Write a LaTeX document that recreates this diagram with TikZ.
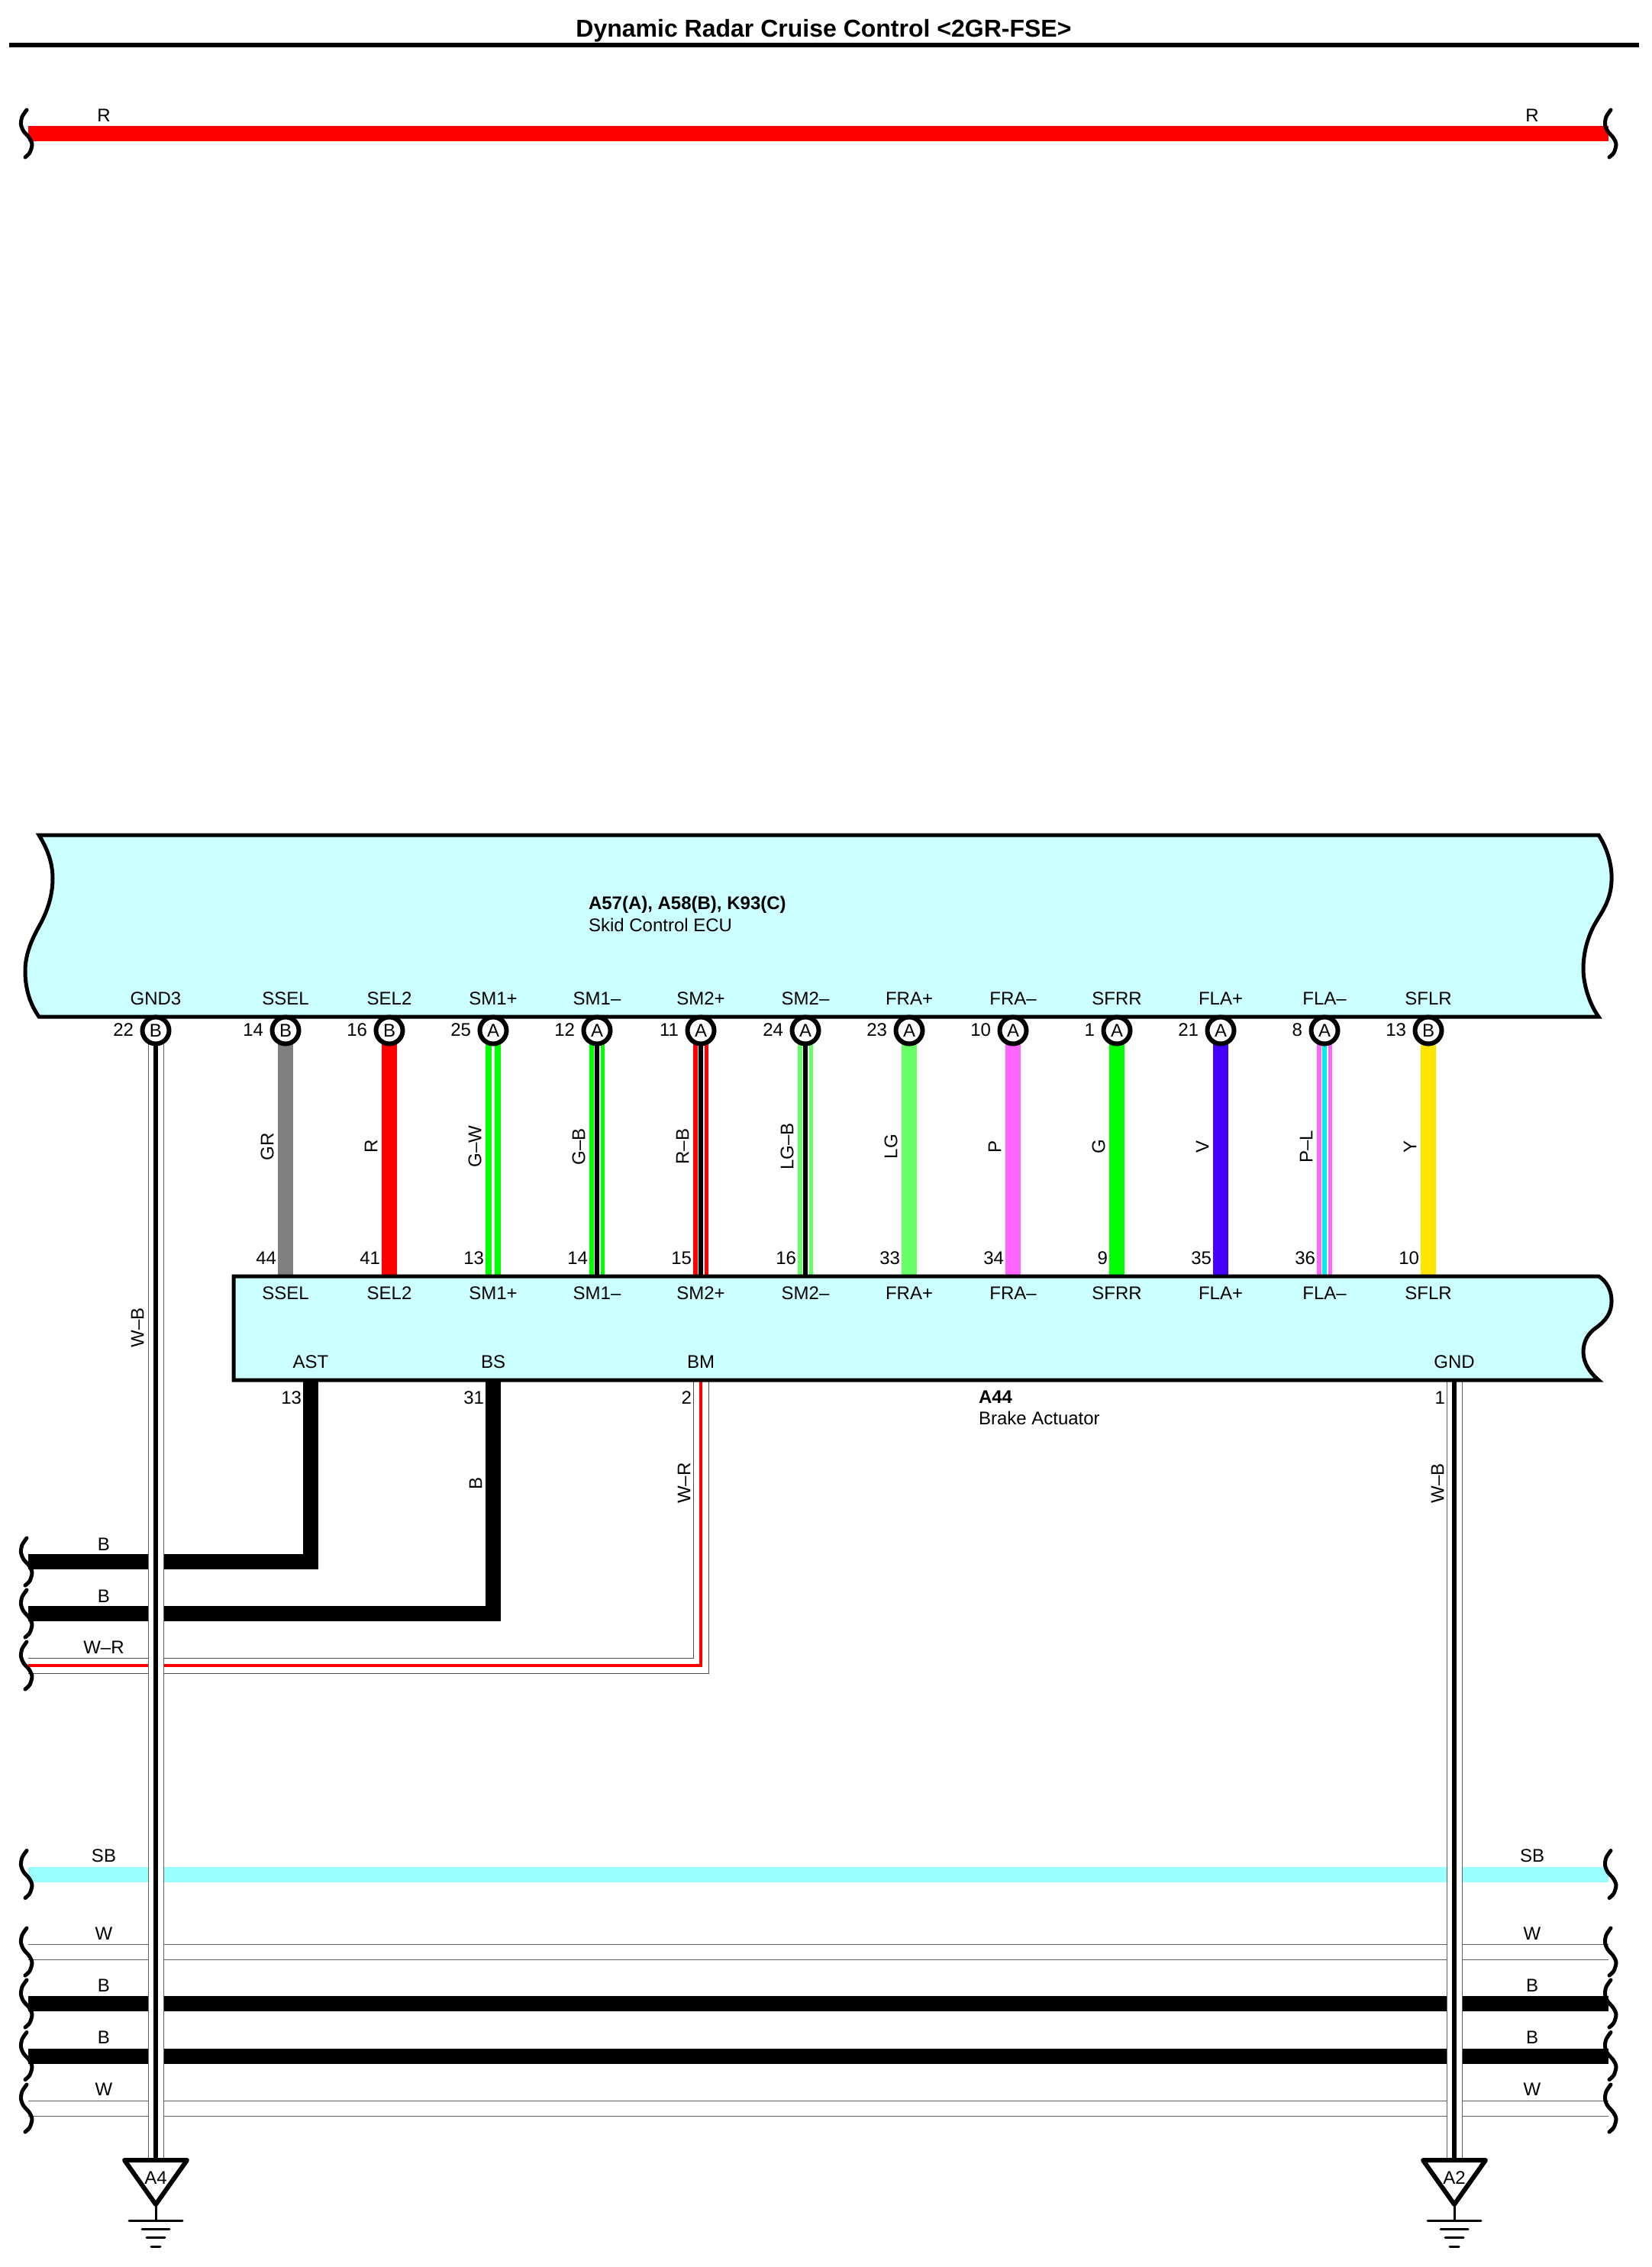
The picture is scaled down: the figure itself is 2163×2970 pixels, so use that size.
\documentclass[tikz,border=0pt]{standalone}
\usepackage{fontspec}
\setmainfont{Liberation Sans}
\pgfdeclarelayer{wires}
\pgfsetlayers{wires,main}
\definecolor{boxfill}{HTML}{CCFFFF}
\definecolor{wgray}{HTML}{808080}
\definecolor{wlg}{HTML}{66FF66}
\definecolor{wpink}{HTML}{FF66FF}
\definecolor{wviolet}{HTML}{4400FF}
\definecolor{wyellow}{HTML}{FFE600}
\definecolor{wcyan}{HTML}{00EEEE}
\definecolor{wsb}{HTML}{99FFFF}
\definecolor{wline}{HTML}{606060}
\tikzset{
  lab/.style={font=\fontsize{12}{12}\selectfont,inner sep=0pt,outer sep=0pt,text=black},
  vlab/.style={lab,rotate=90},
  numlab/.style={lab,anchor=east},
  pincirc/.style={circle,draw=black,line width=3pt,fill=white,minimum size=17.5pt,inner sep=0pt,outer sep=0pt,font=\fontsize{12}{12}\selectfont},
  ecubox/.style={draw=black,fill=boxfill,line width=2.5pt,line join=miter},
  squigline/.style={draw=black,line width=2.5pt,line cap=round,line join=round},
  plainwire/.style={draw=#1,line width=10pt},
  coretwo/.style n args={2}{draw=#1,line width=10pt,postaction={draw=white,line width=4.5pt},postaction={draw=#2,line width=3pt}},
  whitecore/.style={draw=#1,line width=10pt,postaction={draw=white,line width=2pt}},
  linepair/.style={draw=wline,line width=10.5pt,postaction={draw=white,line width=9.5pt}},
  wGR/.style={plainwire=wgray},
  wR/.style={plainwire=red},
  wGW/.style={whitecore=green},
  wGB/.style={coretwo={green}{black}},
  wRB/.style={coretwo={red}{black}},
  wLGB/.style={coretwo={wlg}{black}},
  wLG/.style={plainwire=wlg},
  wP/.style={plainwire=wpink},
  wG/.style={plainwire=green},
  wV/.style={plainwire=wviolet},
  wPL/.style={coretwo={wpink}{wcyan}},
  wY/.style={plainwire=wyellow},
  wWB/.style={draw=wline,line width=10.5pt,postaction={draw=white,line width=9.5pt},postaction={draw=black,line width=2.75pt}},
  wWR/.style={draw=black!70,line width=10.5pt,postaction={draw=white,line width=9.5pt},postaction={draw=red,line width=2.25pt}},
  squig/.pic={\draw[squigline] plot[smooth] coordinates {(8,-31) (2,-22) (0.5,-12) (4,-3) (11,5) (15,14) (12,25) (6,31)};},
  gndsym/.pic={
    \draw[draw=black,fill=white,line width=3pt,line join=round] (-41,0) -- (41,0) -- (0,58) -- cycle;
    \node[lab] (txt) at (0,23) {#1};
    \draw[line width=1.5pt] (0,58) -- (0,79);
    \draw[line width=1.5pt,line cap=round] (-35,79) -- (35,79);
    \draw[line width=1.5pt,line cap=round] (-18,90) -- (18,90);
    \draw[line width=1.5pt,line cap=round] (-12,101.5) -- (12,101.5);
    \draw[line width=1.5pt,line cap=round] (-6,113) -- (6,113);
  }
}
\begin{document}
\begin{tikzpicture}[x=0.5pt,y=-0.5pt]
\useasboundingbox (0,0) rectangle (2163,2970);

% title
\node[lab,font=\bfseries\fontsize{16}{16}\selectfont] (title) at (1079,40) {Dynamic Radar Cruise Control <2GR-FSE>};
\coordinate (ruleL) at (12,59);
\coordinate (ruleR) at (2147,59);
\draw[line width=3pt] (ruleL) -- (ruleR);

% ends of the through wires
\foreach \nm/\yy in {R/175,SB/2455.5,Wa/2557,Ba/2625,Bb/2693.5,Wb/2762}{
  \coordinate (\nm L) at (37,\yy);
  \coordinate (\nm R) at (2107,\yy);
  \pic at (27,\yy) {squig};
  \pic at (2102,\yy) {squig};
}
\foreach \nm/\yy in {Bc/2046,Bd/2114,WR/2182}{
  \coordinate (\nm L) at (37,\yy);
  \pic at (27,\yy) {squig};
}

% boxes
\path[ecubox] (51,1094) -- (2094,1094)
  .. controls (2106,1112) and (2112,1135) .. (2111,1154)
  .. controls (2110,1180) and (2098,1195) .. (2090,1209)
  .. controls (2080,1226) and (2074,1248) .. (2074,1269)
  .. controls (2074,1290) and (2082,1315) .. (2094,1332)
  -- (51,1332)
  .. controls (39,1315) and (33,1295) .. (33,1272)
  .. controls (33,1250) and (42,1230) .. (51,1214)
  .. controls (61,1196) and (69,1175) .. (69,1151)
  .. controls (69,1130) and (62,1112) .. (51,1094) -- cycle;
\path[ecubox] (306,1672) -- (2094,1672)
  .. controls (2104,1678) and (2111,1690) .. (2111,1704)
  .. controls (2111,1720) and (2104,1730) .. (2090,1740)
  .. controls (2080,1747) and (2074,1758) .. (2074,1771)
  .. controls (2074,1785) and (2082,1798) .. (2094,1808)
  -- (306,1808) -- cycle;

% the two parts
\node[lab,anchor=west,font=\bfseries\fontsize{12}{12}\selectfont] (ecuId) at (771,1185) {A57(A), A58(B), K93(C)};
\node[lab,anchor=west] (ecuName) at (771,1212) {Skid Control ECU};
\node[lab,anchor=west,font=\bfseries\fontsize{12}{12}\selectfont] (actId) at (1282,1830) {A44};
\node[lab,anchor=west] (actName) at (1282,1858) {Brake Actuator};

% pins between ECU and actuator
\foreach \xx/\nm/\pn/\lt/\ln/\st/\wl [count=\i] in {
  374/SSEL/14/B/44/wGR/GR,
  510/SEL2/16/B/41/wR/R,
  646/SM1+/25/A/13/wGW/G–W,
  782/SM1–/12/A/14/wGB/G–B,
  918/SM2+/11/A/15/wRB/R–B,
  1055/SM2–/24/A/16/wLGB/LG–B,
  1191/FRA+/23/A/33/wLG/LG,
  1327/FRA–/10/A/34/wP/P,
  1463/SFRR/1/A/9/wG/G,
  1599/FLA+/21/A/35/wV/V,
  1735/FLA–/8/A/36/wPL/P–L,
  1871/SFLR/13/B/10/wY/Y}{
  \node[pincirc] (pin\i) at (\xx,1350) {\lt};
  \coordinate (low\i) at (\xx,1672);
  \node[lab] (tn\i) at (\xx,1308) {\nm};
  \node[lab] (bn\i) at (\xx,1694) {\nm};
  \node[numlab] (tp\i) at (\xx-29,1349) {\pn};
  \node[numlab] (bp\i) at (\xx-12,1648) {\ln};
  \node[vlab] (wl\i) at (\xx-24,1502) {\wl};
  \begin{pgfonlayer}{wires}
    \draw[\st] (pin\i.south) -- (low\i);
  \end{pgfonlayer}
}

% GND3 pin
\node[pincirc] (pinG) at (204,1350) {B};
\node[lab] (gnd3) at (204,1308) {GND3};
\node[numlab] (numG) at (175,1349) {22};
\node[vlab] (wlG) at (180,1739) {W–B};

% actuator lower pins
\coordinate (ast) at (407,1808);
\coordinate (bs) at (646,1808);
\coordinate (bm) at (918,1808);
\coordinate (gndp) at (1905,1808);
\node[lab] (astn) at (407,1784) {AST};
\node[lab] (bsn) at (646,1784) {BS};
\node[lab] (bmn) at (918,1784) {BM};
\node[lab] (gndn) at (1905,1784) {GND};
\node[numlab] (n13) at (395,1831) {13};
\node[numlab] (n31) at (634,1831) {31};
\node[numlab] (n2) at (906,1831) {2};
\node[numlab] (n1) at (1893,1831) {1};
\node[vlab] (wlB) at (623,1943) {B};
\node[vlab] (wlWR) at (896,1943) {W–R};
\node[vlab] (wlWB) at (1883,1943) {W–B};

% ground symbols
\pic (gA) at (204,2830) {gndsym=A4};
\pic (gB) at (1905,2830) {gndsym=A2};
\coordinate (gAtop) at (204,2830);
\coordinate (gBtop) at (1905,2830);

% wire labels on the left and right
\foreach \nm/\xx/\yy/\tx in {la/136/151/R,lb/2007/151/R,lc/136/2431/SB,ld/2007/2431/SB,
  le/136/2533/W,lf/2007/2533/W,lg/136/2601/B,lh/2007/2601/B,li/136/2669.5/B,lj/2007/2669.5/B,
  lk/136/2737.5/W,ll/2007/2737.5/W,lm/136/2023/B,ln/136/2091/B,lo/136/2158/W–R}{
  \node[lab] (\nm) at (\xx,\yy) {\tx};
}

% wires
\begin{pgfonlayer}{wires}
  \draw[plainwire=red] (RL) -- (RR);
  \draw[plainwire=wsb] (SBL) -- (SBR);
  \draw[linepair] (WaL) -- (WaR);
  \draw[plainwire=black] (BaL) -- (BaR);
  \draw[plainwire=black] (BbL) -- (BbR);
  \draw[linepair] (WbL) -- (WbR);
  \draw[plainwire=black] (BcL) -| (ast);
  \draw[plainwire=black] (BdL) -| (bs);
  \draw[wWR] (WRL) -| (bm);
  \draw[wWB] (pinG.south) -- (gAtop);
  \draw[wWB] (gndp) -- (gBtop);
\end{pgfonlayer}
\end{tikzpicture}
\end{document}
